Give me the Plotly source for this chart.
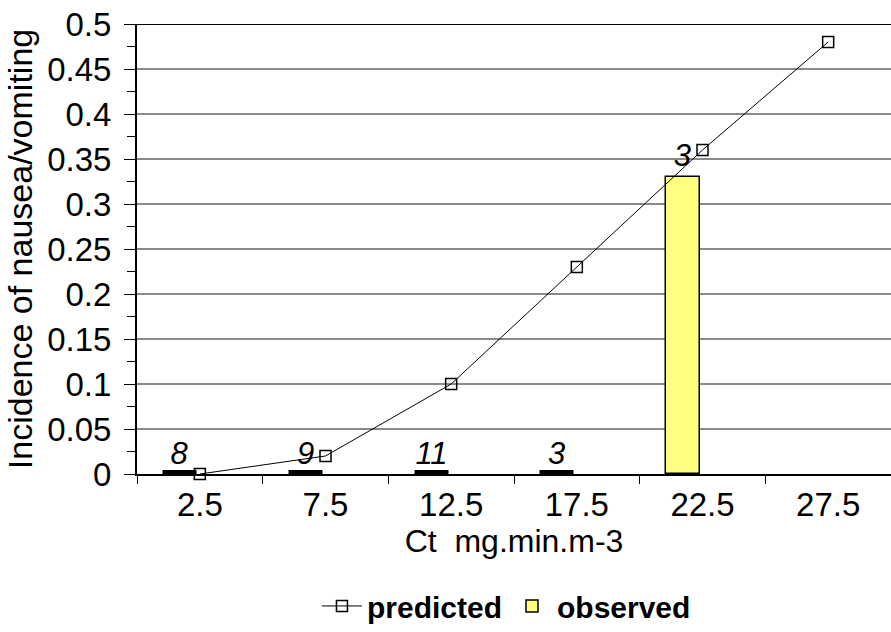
import plotly.graph_objects as go

categories = ["2.5", "7.5", "12.5", "17.5", "22.5", "27.5"]
predicted = [0.0, 0.02, 0.10, 0.23, 0.36, 0.48]
observed = [0.0, 0.0, 0.0, 0.0, 0.33, None]
sample_sizes = ["8", "9", "11", "3", "3", ""]
ytick_vals = [0, 0.05, 0.1, 0.15, 0.2, 0.25, 0.3, 0.35, 0.4, 0.45, 0.5]
ytick_text = ["0", "0.05", "0.1", "0.15", "0.2", "0.25", "0.3", "0.35", "0.4", "0.45", "0.5"]

FONT = "Liberation Sans, Arial, sans-serif"

# zero-valued observations are drawn as thick black strokes, non-zero as yellow bars
obs_zero = [0 if v == 0 else None for v in observed]
obs_pos = [v if (v is not None and v != 0) else None for v in observed]
txt_zero = [t if v == 0 else "" for v, t in zip(observed, sample_sizes)]
txt_pos = [t if (v is not None and v != 0) else "" for v, t in zip(observed, sample_sizes)]

fig = go.Figure()

fig.add_trace(go.Scatter(
    x=categories, y=predicted, name="predicted",
    mode="lines+markers",
    line=dict(color="black", width=1),
    marker=dict(symbol="square-open", size=11, color="black", line=dict(width=1.5)),
    cliponaxis=False,
))

fig.add_trace(go.Bar(
    x=categories, y=obs_pos, name="observed",
    offset=-0.29, width=0.27,
    marker=dict(color="#FFFF80", line=dict(color="black", width=1.5)),
    text=txt_pos, textposition="outside",
    textfont=dict(family=FONT, size=31, color="black", style="italic"),
    cliponaxis=False,
))

fig.add_trace(go.Bar(
    x=categories, y=obs_zero, name="observed (0)", showlegend=False,
    offset=-0.29, width=0.27,
    marker=dict(color="black", line=dict(color="black", width=7)),
    text=txt_zero, textposition="outside",
    textfont=dict(family=FONT, size=31, color="black", style="italic"),
    cliponaxis=False,
))

fig.add_shape(type="line", xref="paper", yref="y", x0=0, x1=1, y0=0.5, y1=0.5,
              line=dict(color="black", width=2))

fig.update_layout(
    width=891, height=632,
    margin=dict(l=137, r=0, t=24, b=158),
    paper_bgcolor="white", plot_bgcolor="white",
    font=dict(family=FONT, size=33, color="black"),
    showlegend=True,
    legend=dict(orientation="h", x=0.49, xanchor="center", y=-0.351, yanchor="bottom",
                font=dict(family=FONT, size=30, color="black", weight="bold"),
                itemwidth=40),
    barmode="overlay",
    bargap=0,
)

fig.update_xaxes(
    type="category", range=[-0.5, 5.5],
    showline=True, linecolor="black", linewidth=2,
    ticks="outside", tickson="boundaries", ticklen=8, tickcolor="black", tickwidth=1,
    showgrid=False,
    tickfont=dict(size=33),
    title=dict(text="Ct  mg.min.m-3", font=dict(size=32), standoff=2),
)

fig.update_yaxes(
    range=[0, 0.5], tickvals=ytick_vals, ticktext=ytick_text,
    showline=True, linecolor="black", linewidth=2,
    ticks="outside", ticklen=11, tickcolor="black", tickwidth=1,
    ticklabelstandoff=6,
    minor=dict(ticks="outside", ticklen=8, dtick=0.025, tickcolor="black", showgrid=False),
    showgrid=True, gridcolor="#8a8a8a", gridwidth=1.5,
    zeroline=False,
    tickfont=dict(size=33),
    title=dict(text="Incidence of nausea/vomiting", font=dict(size=34), standoff=4),
)

fig.write_html("out.html")
